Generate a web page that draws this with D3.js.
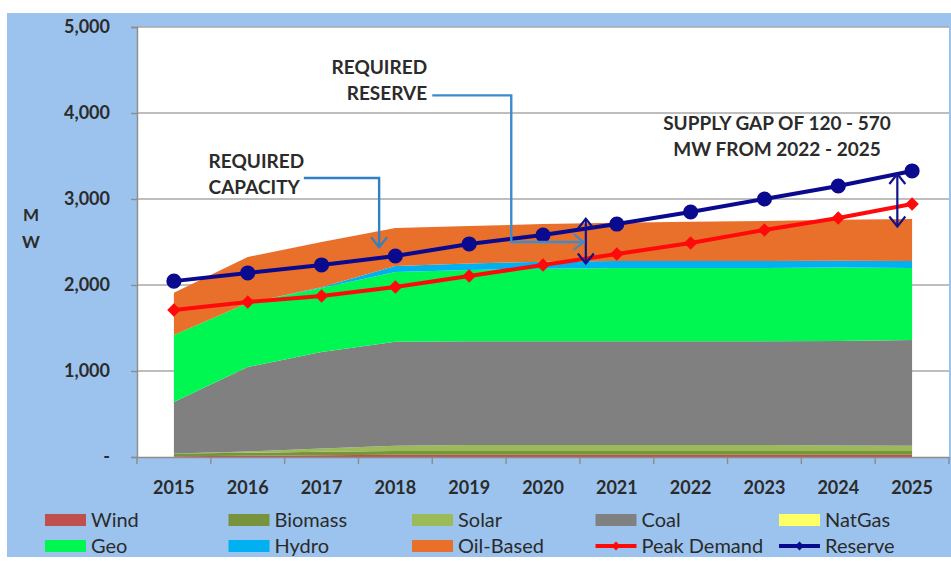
<!DOCTYPE html>
<html lang="en">
<head>
	<meta charset="UTF-8">
	<title>Capacity vs Peak Demand</title>
	<script src="https://cdn.jsdelivr.net/npm/d3@7"></script>
	<style>
		body { margin: 0; background: #fff; }
		text { font-family: Lato, "Open Sans", sans-serif; fill: #2b2b2b; }
	</style>
</head>
<body>
	<svg id="svg"></svg>
	<script>
		// values (MW)
		var years = [2015, 2016, 2017, 2018, 2019, 2020, 2021, 2022, 2023, 2024, 2025];
		var wind = [10, 15, 20, 25, 25, 25, 25, 25, 25, 25, 25];
		var biomass = [30, 35, 40, 45, 45, 45, 45, 45, 45, 45, 45];
		var solar = [0, 15, 40, 60, 70, 70, 70, 70, 70, 65, 60];
		var coal = [600, 982, 1120, 1210, 1205, 1205, 1205, 1205, 1205, 1215, 1230];
		var natGas = [0, 0, 0, 0, 0, 0, 0, 0, 0, 0, 0];
		var geo = [779, 743, 745, 811, 830, 845, 853, 853, 853, 853, 838];
		var hydro = [0, 0, 10, 70, 75, 80, 80, 80, 80, 80, 80];
		var oilBased = [491, 536, 525, 442, 436, 439, 447, 457, 467, 477, 489];
		var peakDemand = [1709, 1802, 1872, 1977, 2105, 2233, 2360, 2488, 2640, 2779, 2942];
		var reserve = [2045, 2140, 2233, 2337, 2477, 2581, 2709, 2849, 3000, 3151, 3326];
		var yTicks = [0, 1000, 2000, 3000, 4000, 5000];
		var yTickLabels = ["-", "1,000", "2,000", "3,000", "4,000", "5,000"];

		var layerNames = ["Wind", "Biomass", "Solar", "Coal", "NatGas", "Geo", "Hydro", "Oil-Based"];
		var layerValues = [wind, biomass, solar, coal, natGas, geo, hydro, oilBased];
		var layerColors = ["#c0504d", "#77933c", "#9bbb59", "#808080", "#ffff66", "#00f752", "#00b0f0", "#e8702a"];

		window.onload = function() {
			var w = 951, h = 561,
				svg = d3.select("#svg").attr("width", w).attr("height", h);

			var x = d3.scaleBand().domain(years).range([137, 949]);
			var y = d3.scaleLinear().domain([0, 5000]).range([457, 27]);
			function cx(d) { return x(d) + x.bandwidth() / 2; }
			// fractional year -> pixel, for the callouts
			function xf(t) { return cx(years[0]) + (t - years[0]) * x.step(); }

			// background
			svg.append("rect").attr("x", 7).attr("y", 13).attr("width", w - 7).attr("height", 544)
				.attr("fill", "#9cc3ed");
			svg.append("rect").attr("x", 137).attr("y", y(5000)).attr("width", 949 - 137).attr("height", y(0) - y(5000))
				.attr("fill", "#fff");

			// gridlines
			svg.append("g").selectAll("line").data(yTicks.slice(1)).enter().append("line")
				.attr("x1", 137).attr("x2", 949)
				.attr("y1", function(d) { return y(d); }).attr("y2", function(d) { return y(d); })
				.attr("stroke", "#a8a8a8").attr("stroke-width", 1.4);

			// stacked areas
			var table = years.map(function(yr, i) {
				var row = { year: yr };
				layerNames.forEach(function(n, k) { row[n] = layerValues[k][i]; });
				return row;
			});
			var stack = d3.stack().keys(layerNames)(table);
			var area = d3.area()
				.x(function(d) { return cx(d.data.year); })
				.y0(function(d) { return y(d[0]); })
				.y1(function(d) { return y(d[1]); });
			svg.append("g").selectAll("path").data(stack).enter().append("path")
				.attr("d", area)
				.attr("fill", function(d, i) { return layerColors[i]; });

			// axes
			var yAxis = svg.append("g").attr("transform", "translate(137,0)")
				.call(d3.axisLeft(y).tickValues(yTicks)
					.tickFormat(function(d, i) { return yTickLabels[i]; })
					.tickSize(6).tickPadding(21));
			yAxis.select(".domain").attr("stroke", "#8c8c8c").attr("stroke-width", 1.4);
			yAxis.selectAll(".tick line").attr("stroke", "#8c8c8c").attr("stroke-width", 1.4);
			yAxis.selectAll("text").attr("font-size", 18).attr("font-weight", "bold")
				.attr("font-family", "Lato").attr("fill", "#2b2b2b");

			var xAxis = svg.append("g").attr("transform", "translate(0,457)")
				.call(d3.axisBottom(x).tickSize(0).tickPadding(24));
			xAxis.select(".domain").attr("stroke", "#8c8c8c").attr("stroke-width", 1.4);
			xAxis.selectAll("text").attr("font-size", 18).attr("font-weight", "bold")
				.attr("font-family", "Lato").attr("fill", "#2b2b2b");
			xAxis.append("g").selectAll("line").data(years.concat([null])).enter().append("line")
				.attr("x1", function(d) { return d === null ? 949 : x(d); })
				.attr("x2", function(d) { return d === null ? 949 : x(d); })
				.attr("y1", 0).attr("y2", 7)
				.attr("stroke", "#8c8c8c").attr("stroke-width", 1.4);

			// y axis title
			svg.append("text").attr("x", 31).attr("y", 221).attr("text-anchor", "middle")
				.attr("font-size", 17).attr("font-weight", "bold").text("M");
			svg.append("text").attr("x", 31).attr("y", 248).attr("text-anchor", "middle")
				.attr("font-size", 17).attr("font-weight", "bold").text("W");

			// lines
			function drawLine(vals, color, marker) {
				var line = d3.line()
					.x(function(d, i) { return cx(years[i]); })
					.y(function(d) { return y(d); });
				svg.append("path").datum(vals).attr("d", line)
					.attr("fill", "none").attr("stroke", color).attr("stroke-width", 4);
				var pts = svg.append("g").selectAll("path").data(vals).enter().append("path")
					.attr("transform", function(d, i) { return "translate(" + cx(years[i]) + "," + y(d) + ")"; })
					.attr("fill", color);
				if (marker == "diamond") pts.attr("d", d3.symbol().type(d3.symbolDiamond2).size(115));
				else pts.attr("d", d3.symbol().type(d3.symbolCircle).size(180));
			}
			drawLine(peakDemand, "#ff0a0a", "diamond");
			drawLine(reserve, "#0a0a8f", "circle");

			// arrows
			function chevron(g, px, py, dir, color) {
				var s = 8, pts;
				if (dir == "down") pts = [[px - s, py - s - 2], [px, py], [px + s, py - s - 2]];
				else if (dir == "up") pts = [[px - s, py + s + 2], [px, py], [px + s, py + s + 2]];
				else pts = [[px - s - 2, py - s], [px, py], [px - s - 2, py + s]];
				g.append("path").attr("d", d3.line()(pts))
					.attr("fill", "none").attr("stroke", color).attr("stroke-width", 2.2);
			}
			function doubleArrow(t, top, bottom) {
				var g = svg.append("g"), color = "#12128a";
				g.append("line").attr("x1", xf(t)).attr("x2", xf(t))
					.attr("y1", y(top)).attr("y2", y(bottom))
					.attr("stroke", color).attr("stroke-width", 2.2);
				chevron(g, xf(t), y(top), "up", color);
				chevron(g, xf(t), y(bottom), "down", color);
			}
			doubleArrow(2020.58, 2770, 2250);
			doubleArrow(2024.8, 3290, 2680);

			// callouts
			var callColor = "#2f80c4";
			var g1 = svg.append("g");
			g1.append("path").attr("d", d3.line()([[xf(2016.76), y(3244)], [xf(2017.78), y(3244)], [xf(2017.78), y(2440)]]))
				.attr("fill", "none").attr("stroke", callColor).attr("stroke-width", 2.4);
			chevron(g1, xf(2017.78), y(2440), "down", callColor);
			g1.append("text").attr("x", xf(2015.47)).attr("y", y(3360)).attr("font-size", 19).attr("font-weight", "bold").text("REQUIRED");
			g1.append("text").attr("x", xf(2015.47)).attr("y", y(3058)).attr("font-size", 19).attr("font-weight", "bold").text("CAPACITY");

			var g2 = svg.append("g");
			g2.append("path").attr("d", d3.line()([[xf(2018.5), y(4205)], [xf(2019.57), y(4205)], [xf(2019.57), y(2500)], [xf(2020.55), y(2500)]]))
				.attr("fill", "none").attr("stroke", "#3d8bcc").attr("stroke-width", 2.4);
			chevron(g2, xf(2020.55), y(2500), "right", "#3d8bcc");
			g2.append("text").attr("x", xf(2018.43)).attr("y", y(4453)).attr("text-anchor", "end").attr("font-size", 19).attr("font-weight", "bold").text("REQUIRED");
			g2.append("text").attr("x", xf(2018.43)).attr("y", y(4151)).attr("text-anchor", "end").attr("font-size", 19).attr("font-weight", "bold").text("RESERVE");

			svg.append("text").attr("x", xf(2023.17)).attr("y", y(3802)).attr("text-anchor", "middle")
				.attr("font-size", 19).attr("font-weight", "bold").text("SUPPLY GAP OF 120 - 570");
			svg.append("text").attr("x", xf(2023.17)).attr("y", y(3500)).attr("text-anchor", "middle")
				.attr("font-size", 19).attr("font-weight", "bold").text("MW FROM 2022 - 2025");

			// legend
			var legendItems = layerNames.map(function(n, i) { return { name: n, color: layerColors[i], type: "area" }; })
				.concat([{ name: "Peak Demand", color: "#ff0a0a", type: "diamond" }, { name: "Reserve", color: "#0a0a8f", type: "circle" }]);
			var legend = svg.append("g").selectAll("g").data(legendItems).enter().append("g")
				.attr("transform", function(d, i) { return "translate(" + (45 + (i % 5) * 183.5) + "," + (i < 5 ? 520 : 546) + ")"; });
			legend.each(function(d) {
				var g = d3.select(this);
				if (d.type == "area") {
					g.append("rect").attr("x", 0).attr("y", -6).attr("width", 41).attr("height", 12).attr("fill", d.color);
				} else {
					g.append("line").attr("x1", 0).attr("x2", 41).attr("y1", 0).attr("y2", 0)
						.attr("stroke", d.color).attr("stroke-width", 4);
					g.append("path").attr("transform", "translate(20.5,0)").attr("fill", d.color)
						.attr("d", d3.symbol().type(d3.symbolDiamond2).size(50));
				}
				g.append("text").attr("x", 46).attr("y", 0).attr("dy", "0.35em")
					.attr("font-size", 20).attr("fill", "#333").text(d.name);
			});
		}
	</script>
</body>
</html>
